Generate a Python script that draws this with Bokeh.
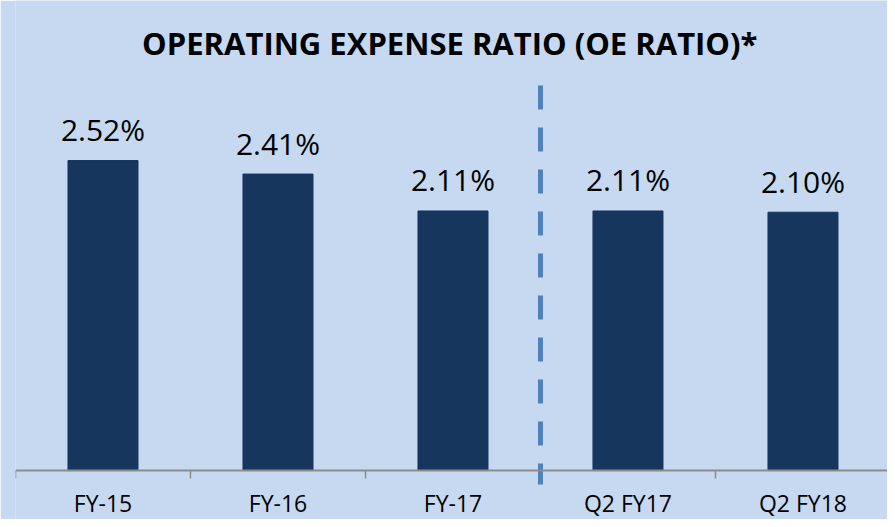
import math
from bokeh.plotting import figure
from bokeh.models import Range1d, Span, Label
from bokeh.core.properties import value
from bokeh.embed import file_html
from bokeh.resources import INLINE

# ---- data ----
categories = ["FY-15", "FY-16", "FY-17", "Q2 FY17", "Q2 FY18"]
oe_ratio = [2.52, 2.41, 2.11, 2.11, 2.10]
value_labels = [f"{v:.2f}%" for v in oe_ratio]
divider_index = 3  # dashed divider between annual and quarterly figures
title_text = "OPERATING EXPENSE RATIO (OE RATIO)*"

# ---- style ----
BG = "#C6D9F0"
BAR = "#17365D"
AXIS = "#8C8C8C"
DASH = "#4F81BD"
FONT = "Open Sans"

centers = [i + 0.5 for i in range(len(categories))]
bounds = list(range(len(categories) + 1))

x_end = 4.983
y_start, y_end = -0.398, 3.821

p = figure(width=887, height=519, output_backend="svg", toolbar_location=None,
           x_range=Range1d(0, x_end), y_range=Range1d(y_start, y_end),
           x_axis_location=None, y_axis_location=None,
           min_border_left=15, min_border_right=0, min_border_top=0, min_border_bottom=0)
p.grid.visible = False
p.outline_line_color = None
p.background_fill_color = BG
p.border_fill_color = BG

# bars
p.vbar(x=centers, top=oe_ratio, bottom=0, width=0.4, color=BAR)

# baseline axis and tick marks at category boundaries
p.add_layout(Span(location=0, dimension="width", line_color=AXIS, line_width=2))
p.ray(x=bounds, y=[0] * len(bounds), length=8, length_units="screen",
      angle=-math.pi / 2, line_color=AXIS, line_width=1.5)

# category labels
p.text(x=centers, y=[0] * len(centers), text=categories, y_offset=32,
       text_align="center", text_baseline="alphabetic",
       text_font=value(FONT), text_font_size="23px", text_color="#000000")

# value labels
p.text(x=centers, y=oe_ratio, text=value_labels, y_offset=-31,
       text_align="center", text_baseline="alphabetic",
       text_font=value(FONT), text_font_size="30px", text_color="#000000")

# dashed divider
p.segment(x0=[divider_index], y0=[3.13], x1=[divider_index], y1=[-0.114],
          line_color=DASH, line_width=5, line_dash="24 18")

# title
p.add_layout(Label(x=x_end / 2 - 0.01, y=3.474, text=title_text, text_align="center",
                   text_baseline="alphabetic", text_font=FONT,
                   text_font_size="31px", text_font_style="bold",
                   text_color="#000000"))

open("out.html", "w").write(file_html(p, INLINE))
